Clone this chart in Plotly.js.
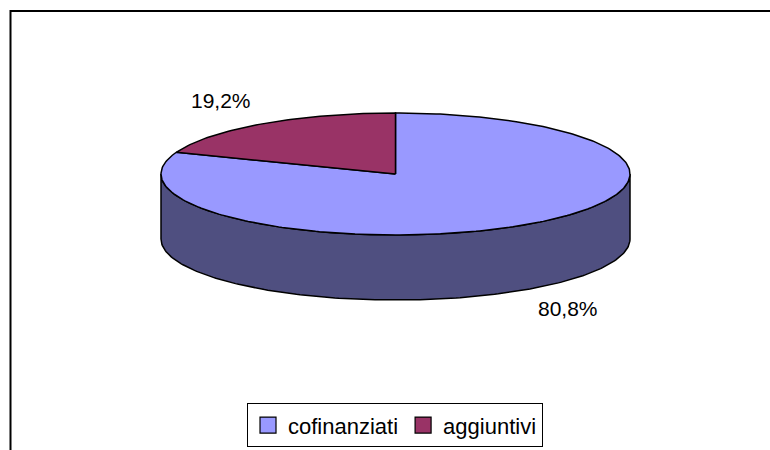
<!DOCTYPE html>
<html>
<head>
<meta charset="utf-8">
<script src="https://cdn.plot.ly/plotly-3.0.1.min.js"></script>
<style>html,body{margin:0;padding:0;background:#fff;}#chart{width:770px;height:450px;}</style>
</head>
<body>
<div id="chart"></div>
<script>
// ---- data ----
const categories = ["cofinanziati", "aggiuntivi"];
const values = [80.8, 19.2];
const topColors = ["#9999FF", "#993366"];
const sideColors = ["#4F4F80", "#4D1A33"];

// ---- geometry (layout constants) ----
const cx = 395.5, cy = 174, rx = 234.5, ry = 61, depth = 65;
const total = values.reduce((a, b) => a + b, 0);
const rad = d => d * Math.PI / 180;
const px = d => cx + rx * Math.cos(rad(d));
const py = (d, off) => cy - ry * Math.sin(rad(d)) + (off || 0);

// slice angle ranges: start at 12 o'clock, clockwise
const slices = [];
let start = 90;
values.forEach((v, i) => {
  const sweep = v / total * 360;
  slices.push({ from: start, to: start - sweep, i: i });
  start -= sweep;
});

function arc(a0, a1, off) {
  const xs = [], ys = [];
  const n = Math.max(2, Math.ceil(Math.abs(a1 - a0)));
  for (let k = 0; k <= n; k++) {
    const a = a0 + (a1 - a0) * k / n;
    xs.push(px(a)); ys.push(py(a, off));
  }
  return [xs, ys];
}

const traces = [];
const edge = { color: "black", width: 1.5 };

// side walls (front half only)
slices.forEach(s => {
  const hi = s.from, lo = s.to;
  const segs = [];
  for (let shift = -720; shift <= 720; shift += 360) {
    const a = Math.min(hi, 0 + shift), b = Math.max(lo, -180 + shift);
    if (a > b) segs.push([a, b]);
  }
  segs.forEach(([a, b]) => {
    const top = arc(a, b, 0), bot = arc(b, a, depth);
    traces.push({
      type: "scatter", mode: "lines", fill: "toself",
      x: top[0].concat(bot[0], [top[0][0]]),
      y: top[1].concat(bot[1], [top[1][0]]),
      fillcolor: sideColors[s.i], line: edge,
      showlegend: false, hoverinfo: "skip"
    });
  });
});

// top faces
slices.forEach(s => {
  const a = arc(s.from, s.to, 0);
  traces.push({
    type: "scatter", mode: "lines", fill: "toself",
    x: [cx].concat(a[0], [cx]),
    y: [cy].concat(a[1], [cy]),
    fillcolor: topColors[s.i], line: edge,
    showlegend: false, hoverinfo: "skip"
  });
});

// legend entries
categories.forEach((c, i) => {
  traces.push({
    type: "scatter", mode: "markers", x: [null], y: [null], name: c,
    marker: { symbol: "square", size: 16, color: topColors[i], line: { color: "black", width: 1.2 } },
    hoverinfo: "skip"
  });
});

const fmt = v => (v / total * 100).toFixed(1).replace(".", ",") + "%";
const labelPos = [[568, 308], [221, 100]];
const annotations = values.map((v, i) => ({
  x: labelPos[i][0], y: labelPos[i][1], xref: "x", yref: "y",
  text: fmt(v), showarrow: false,
  font: { family: "Liberation Sans, Arial, sans-serif", size: 21, color: "black" }
}));

const layout = {
  width: 770, height: 450,
  margin: { l: 0, r: 0, t: 0, b: 0 },
  paper_bgcolor: "white", plot_bgcolor: "white",
  xaxis: { range: [0, 770], visible: false, fixedrange: true },
  yaxis: { range: [450, 0], visible: false, fixedrange: true },
  showlegend: true,
  legend: {
    orientation: "h", x: 0.513, xanchor: "center", y: 0.006, yanchor: "bottom",
    bgcolor: "white", bordercolor: "black", borderwidth: 1,
    font: { family: "Liberation Sans, Arial, sans-serif", size: 22, color: "black" },
    itemwidth: 30
  },
  annotations: annotations,
  shapes: [
    { type: "line", xref: "x", yref: "y", x0: 10.5, x1: 770, y0: 11, y1: 11, line: { color: "black", width: 2 } },
    { type: "line", xref: "x", yref: "y", x0: 10.5, x1: 10.5, y0: 10, y1: 450, line: { color: "black", width: 2 } }
  ]
};

Plotly.newPlot("chart", traces, layout, { staticPlot: true, displayModeBar: false });
</script>
</body>
</html>
